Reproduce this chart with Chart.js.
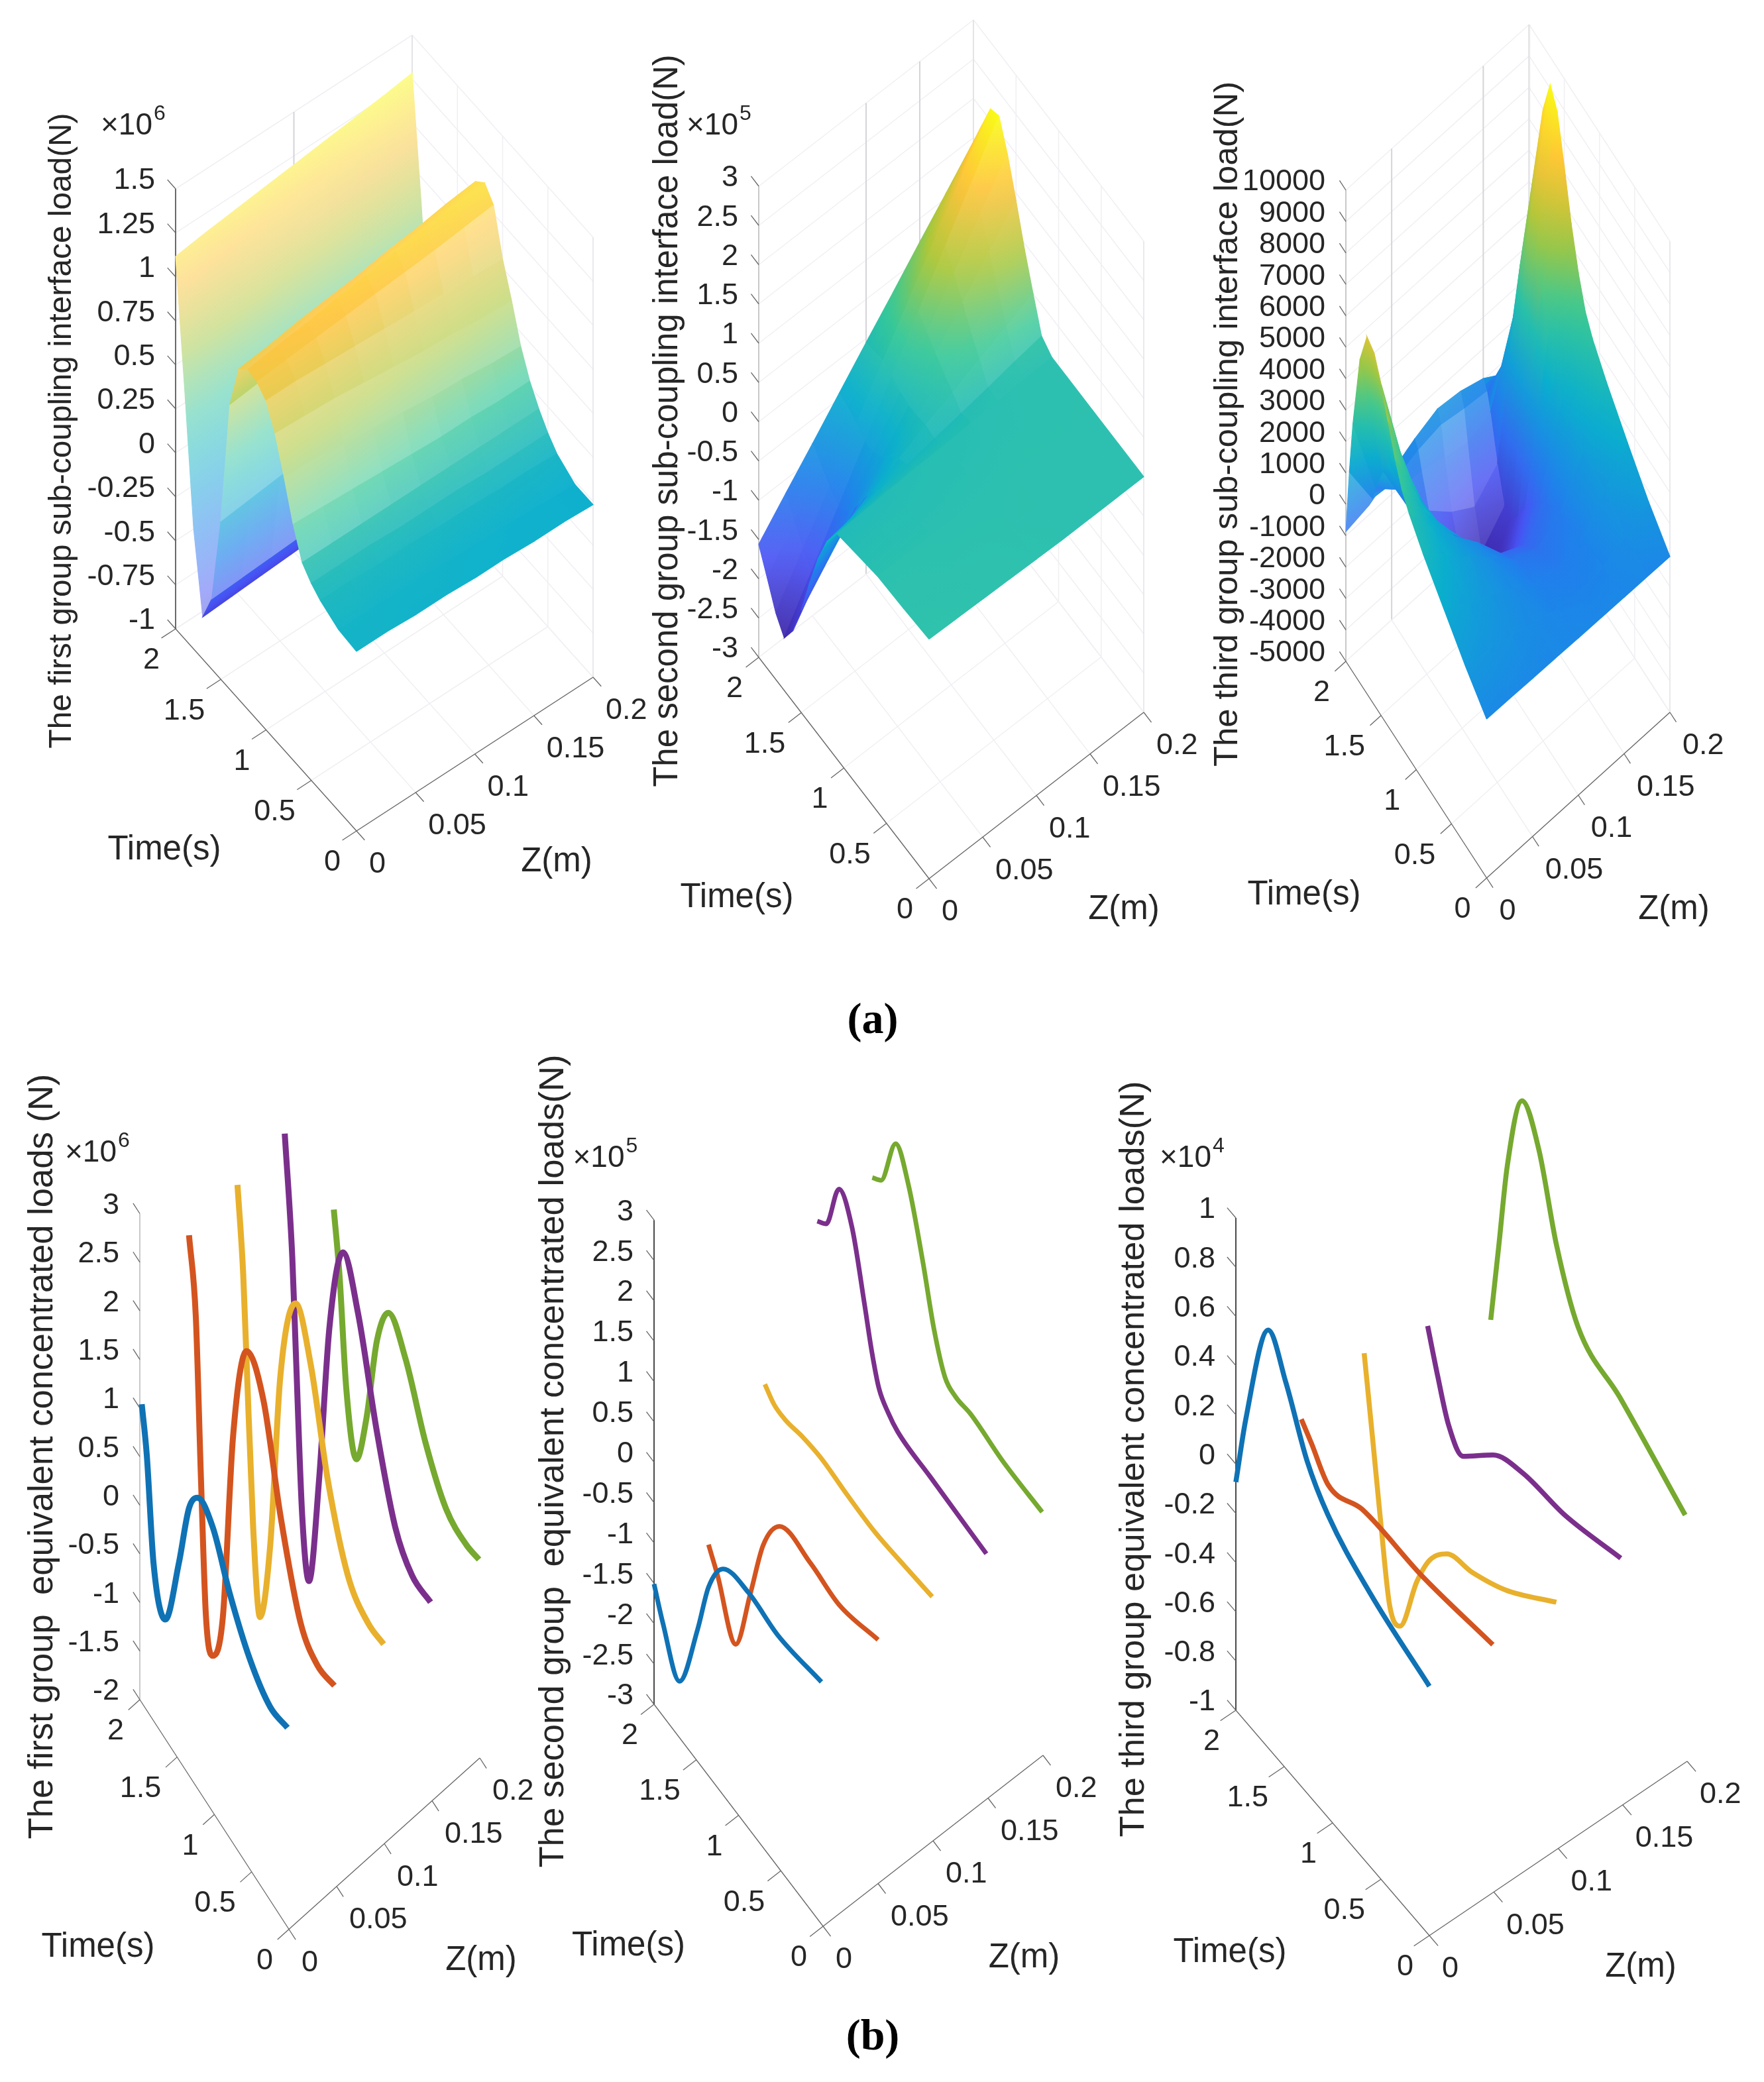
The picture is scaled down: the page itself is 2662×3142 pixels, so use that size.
<!DOCTYPE html>
<html>
<head>
<meta charset="utf-8">
<title>Sub-coupling interface loads</title>
<script src="https://cdn.jsdelivr.net/npm/chart.js@4"></script>
<style>
  html, body { margin: 0; background: #fff; }
  #page { position: relative; width: 2662px; height: 3142px; overflow: hidden; }
  canvas { position: absolute; }
  .tag { position: absolute; font: bold 66px "Liberation Serif", serif; color: #000; transform: translate(-50%, -50%); }
</style>
</head>
<body>
<div id="page">
  <div class="tag" style="left:1317px;top:1537px">(a)</div>
  <div class="tag" style="left:1317px;top:3071px">(b)</div>
</div>
<script>
// 1. DATA
const zStations = [0, 0.025, 0.05, 0.075, 0.1, 0.125, 0.15, 0.175, 0.2];

// surfaces: one row per time, one column per z station
const a1Time = [0, 0.2, 0.4, 0.5, 0.6, 0.7, 0.8, 0.9, 1, 1.1, 1.2, 1.3, 1.4, 1.5, 1.6, 1.7, 1.8, 1.9, 2];
const a1Load = [
  [0.02, 0.02, 0.01, 0.01, 0, 0, -0.01, -0.01, -0.02],
  [0.03, 0.03, 0.02, 0.02, 0.01, 0, 0, -0.01, -0.02],
  [0.08, 0.08, 0.07, 0.07, 0.06, 0.06, 0.05, 0.05, 0.04],
  [0.12, 0.12, 0.12, 0.11, 0.11, 0.11, 0.1, 0.1, 0.1],
  [0.18, 0.18, 0.18, 0.18, 0.18, 0.18, 0.18, 0.18, 0.18],
  [0.34, 0.33, 0.32, 0.31, 0.3, 0.29, 0.29, 0.28, 0.28],
  [0.55, 0.54, 0.52, 0.5, 0.48, 0.46, 0.45, 0.43, 0.42],
  [0.74, 0.73, 0.72, 0.7, 0.68, 0.66, 0.65, 0.63, 0.62],
  [0.87, 0.87, 0.86, 0.85, 0.84, 0.83, 0.82, 0.81, 0.8],
  [0.92, 0.935, 0.95, 0.965, 0.98, 0.995, 1.01, 1.03, 1.05],
  [0.935, 0.96, 0.98, 1.01, 1.03, 1.06, 1.08, 1.1, 1.12],
  [0.88, 0.9, 0.93, 0.95, 0.97, 1, 1.02, 1.05, 1.07],
  [0.62, 0.64, 0.66, 0.68, 0.7, 0.72, 0.74, 0.76, 0.78],
  [-0.1, -0.08, -0.06, -0.04, -0.02, 0, 0.02, 0.04, 0.06],
  [-0.6, -0.59, -0.58, -0.57, -0.56, -0.55, -0.54, -0.53, -0.52],
  [-0.76, -0.75, -0.74, -0.73, -0.72, -0.71, -0.7, -0.69, -0.68],
  [-0.32, -0.3, -0.28, -0.26, -0.24, -0.22, -0.2, -0.18, -0.16],
  [0.42, 0.45, 0.48, 0.5, 0.52, 0.54, 0.56, 0.58, 0.6],
  [1.116, 1.14, 1.16, 1.18, 1.2, 1.22, 1.24, 1.26, 1.285]
];

const a2Time = [0, 0.3, 0.6, 0.9, 1.08, 1.2, 1.3, 1.4, 1.5, 1.6, 1.7, 1.8, 1.9, 2];
const a2Load = [
  [0.05, 0.04, 0.03, 0.02, 0.01, 0, 0, 0, 0],
  [0.02, 0.02, 0.01, 0.01, 0, 0, 0, 0, 0],
  [0, 0, -0.01, -0.01, -0.01, 0, 0, 0, 0],
  [-0.08, -0.07, -0.06, -0.05, -0.04, -0.03, -0.02, -0.01, 0],
  [-0.13, -0.11, -0.09, -0.07, -0.06, -0.04, -0.03, -0.01, 0],
  [-0.4, -0.34, -0.27, -0.21, -0.15, -0.09, -0.03, 0.04, 0.1],
  [-0.75, -0.59, -0.44, -0.28, -0.12, 0.03, 0.19, 0.34, 0.5],
  [-1.2, -0.93, -0.67, -0.4, -0.14, 0.13, 0.39, 0.66, 0.92],
  [-1.7, -1.31, -0.93, -0.54, -0.15, 0.24, 0.63, 1.01, 1.4],
  [-2.1, -1.61, -1.11, -0.62, -0.12, 0.37, 0.86, 1.36, 1.85],
  [-2.33, -1.76, -1.2, -0.63, -0.06, 0.5, 1.07, 1.63, 2.2],
  [-2.15, -1.61, -1.08, -0.54, 0, 0.54, 1.08, 1.61, 2.15],
  [-1.85, -1.39, -0.94, -0.48, -0.03, 0.43, 0.89, 1.34, 1.8],
  [-1.56, -1.18, -0.81, -0.43, -0.05, 0.32, 0.7, 1.07, 1.45]
];

const a3Time = [0, 0.3, 0.6, 0.9, 1.1, 1.2, 1.3, 1.4, 1.5, 1.6, 1.7, 1.8, 1.9, 1.95, 2];
const a3Load = [
  [60, 50, 30, 20, 0, -10, -20, -30, -40],
  [700, 550, 350, 100, -100, -200, -100, 250, 650],
  [1450, 1000, 600, 150, -300, -450, -200, 600, 1500],
  [2200, 1500, 800, 100, -600, -900, -450, 900, 2400],
  [2800, 1700, 750, -100, -1100, -1500, -800, 1200, 3100],
  [3200, 1850, 650, -500, -1600, -2000, -1100, 1500, 3600],
  [3850, 2000, 400, -1000, -2200, -2600, -1500, 2000, 4500],
  [4700, 2200, 100, -1500, -2800, -3200, -2000, 2800, 5700],
  [5550, 2300, -200, -1800, -3200, -3700, -2600, 3800, 7200],
  [6200, 2100, -500, -2000, -3300, -4000, -3100, 4500, 8600],
  [6370, 1700, -600, -1900, -3000, -3800, -3000, 4870, 9130],
  [5300, 1100, -600, -1500, -2200, -2700, -2000, 3700, 8000],
  [2900, 200, -500, -600, -800, -1000, -700, 1670, 4400],
  [1200, -300, -400, -100, 50, -100, -200, 400, 2000],
  [-870, -700, -300, 100, 400, 300, 50, -450, -1200]
];

// line panels: the five z positions, each line with its own readings
const lineStations = [0, 0.05, 0.1, 0.15, 0.2];
const lineColors = ['#0f72b5', '#d4541f', '#e8b02c', '#7b2f8c', '#76a92f'];

const b1Time0 = [1.974, 1.907, 1.816, 1.657, 1.475, 1.34, 1.227, 1.022, 0.796, 0.524, 0.25, 0.02];
const b1Load0 = [1.07, 0.63, -0.38, -0.77, 0.03, 0.75, 0.99, 0.93, 0.52, 0.16, -0.01, 0.05];
const b1Time1 = [1.98, 1.889, 1.82, 1.753, 1.662, 1.526, 1.39, 1.209, 0.981, 0.755, 0.483, 0.258, 0.03];
const b1Load1 = [2.36, 1.63, 0.05, -1.29, -1.59, -1.03, 0.98, 2.08, 1.84, 0.93, 0.14, -0.03, 0.03];
const b1Time2 = [1.97, 1.893, 1.849, 1.76, 1.668, 1.53, 1.396, 1.191, 0.987, 0.76, 0.489, 0.216, 0.01];
const b1Load2 = [2.45, 1.62, 0.8, -0.82, -1.64, -0.73, 1.15, 2.15, 1.76, 0.85, 0.18, 0.01, 0.04];
const b1Time3 = [1.976, 1.875, 1.83, 1.742, 1.651, 1.514, 1.378, 1.196, 0.992, 0.742, 0.493, 0.267, 0.02];
const b1Load3 = [2.53, 1.38, 0.51, -1.12, -1.69, -0.47, 1.23, 2.23, 1.84, 0.93, 0.23, 0, 0.02];
const b1Time4 = [1.958, 1.882, 1.79, 1.654, 1.52, 1.38, 1.227, 0.996, 0.725, 0.453, 0.18, 0.01];
const b1Load4 = [1.33, 0.75, -0.32, -0.88, -0.3, 0.66, 1.13, 0.93, 0.38, 0.03, -0.02, 0.03];

const b2Time0 = [2, 1.895, 1.698, 1.484, 1.355, 1.184, 0.882, 0.538, 0.02];
const b2Load0 = [-1.51, -1.85, -2.3, -1.36, -0.66, -0.2, -0.08, -0.13, 0];
const b2Time1 = [2.006, 1.9, 1.683, 1.51, 1.36, 1.167, 0.8, 0.46, 0];
const b2Load1 = [-1.56, -1.79, -2.35, -1.48, -0.68, -0.18, -0.13, -0.18, 0.02];
const b2Time2 = [1.99, 1.883, 1.754, 1.539, 1.324, 1.024, 0.68, 0.334, 0.01];
const b2Load2 = [-0.08, -0.18, -0.19, -0.117, -0.08, -0.11, -0.12, -0.057, 0.01];
const b2Time3 = [2.02, 1.915, 1.764, 1.61, 1.46, 1.372, 1.29, 1.18, 1.07, 0.687, 0.02];
const b2Load3 = [1.37, 1.48, 2.12, 1.86, 1.1, 0.626, 0.3, 0.148, 0.07, 0.04, 0];
const b2Time4 = [2.02, 1.916, 1.744, 1.593, 1.42, 1.29, 1.16, 1.034, 0.86, 0.475, 0.01];
const b2Load4 = [1.38, 1.49, 2.18, 1.88, 1.15, 0.506, 0.09, 0.02, 0.05, -0.01, 0];

const b3Time0 = [2, 1.897, 1.666, 1.482, 1.264, 1.048, 0.61, 0];
const b3Load0 = [-0.073, 0.23, 0.697, 0.567, 0.35, 0.229, 0.11, 0.013];
const b3Time1 = [1.99, 1.885, 1.71, 1.36, 0.75, 0.01];
const b3Load1 = [0.01, -0.04, -0.13, -0.068, -0.056, 0];
const b3Time2 = [2.006, 1.92, 1.83, 1.743, 1.635, 1.46, 1.33, 1.153, 0.892, 0.54, 0.02];
const b3Load2 = [0.094, -0.208, -0.532, -0.81, -0.845, -0.583, -0.438, -0.331, -0.286, -0.198, -0.009];
const b3Time3 = [2.016, 1.91, 1.8, 1.65, 1.34, 1.036, 0.6, 0.02];
const b3Load3 = [0.023, -0.136, -0.28, -0.339, -0.192, -0.125, -0.097, -0.007];
const b3Time4 = [2.03, 1.946, 1.86, 1.707, 1.534, 1.35, 1.13, 0.695, 0.02];
const b3Load4 = [-0.136, 0.206, 0.564, 0.902, 0.785, 0.479, 0.25, 0.16, -0.009];

// tick labels
const timeTicks = [0, 0.5, 1, 1.5, 2];
const zTicks = [0, 0.05, 0.1, 0.15, 0.2];
const a1Ticks = [-1, -0.75, -0.5, -0.25, 0, 0.25, 0.5, 0.75, 1, 1.25, 1.5];
const a2Ticks = [-3, -2.5, -2, -1.5, -1, -0.5, 0, 0.5, 1, 1.5, 2, 2.5, 3];
const a3Ticks = [-5000, -4000, -3000, -2000, -1000, 0, 1000, 2000, 3000, 4000, 5000, 6000, 7000, 8000, 9000, 10000];
const b1Ticks = [-2, -1.5, -1, -0.5, 0, 0.5, 1, 1.5, 2, 2.5, 3];
const b2Ticks = a2Ticks;
const b3Ticks = [-1, -0.8, -0.6, -0.4, -0.2, 0, 0.2, 0.4, 0.6, 0.8, 1];

// 2. PANELS: where each 3D box sits on the page
const panels = [
  { name: 'a1', A: [265, 949], O: [538, 1254], Z: [895, 1022], k: 265.6, ticks: a1Ticks, walls: [0.1, 0.2], axis: '#6a6a6a',
    title: 'The first group sub-coupling interface load(N)', titleAt: [94, 650], titleSize: 47.8, exp: '6', expAt: [206, 186],
    timeAt: [248, 1283], zAt: [840, 1301], time: a1Time, load: a1Load, clim: [-1, 1.3], soft: 0.22, softAbove: -0.3, paleFrom: 6, top: 0, height: 1440, width: 960 },
  { name: 'a2', A: [1145, 992], O: [1402, 1326], Z: [1726, 1075], k: 118.5, ticks: a2Ticks, walls: [0.1, 0.15, 0.2], axis: '#c9c9c9',
    title: 'The second group sub-coupling interface load(N)', titleAt: [1008, 635], titleSize: 51, exp: '5', expAt: [1090, 186],
    timeAt: [1112, 1355], zAt: [1696, 1373], time: a2Time, load: a2Load, clim: [-2.33, 2.2], soft: 0, softAbove: 0, paleFrom: 3, top: 0, height: 1440, width: 960 },
  { name: 'a3', A: [2031, 998], O: [2243.5, 1325], Z: [2520, 1075], k: 0.0474, ticks: a3Ticks, walls: [0.05, 0.15, 0.2], axis: '#c9c9c9',
    title: 'The third group sub-coupling interface load(N)', titleAt: [1853, 640], titleSize: 50.7,
    timeAt: [1968, 1351], zAt: [2526, 1373], time: a3Time, load: a3Load, clim: [-4000, 9130], soft: 0, softAbove: 0, paleFrom: 14, meshFrom: 1.6, meshTo: 0.15, top: 0, height: 1440, width: 830 },
  { name: 'b1', A: [211, 2565], O: [436, 2911.5], Z: [724, 2653], k: 146.7, ticks: b1Ticks, axis: '#c9c9c9',
    title: 'The first group  equivalent concentrated loads (N)', titleAt: [64, 2198], titleSize: 52.6, exp: '6', expAt: [152, 1736],
    timeAt: [148, 2939], zAt: [726, 2959], times: [b1Time0, b1Time1, b1Time2, b1Time3, b1Time4], lines: [b1Load0, b1Load1, b1Load2, b1Load3, b1Load4], lineWidth: 9, top: 1580, height: 1440, width: 900 },
  { name: 'b2', A: [986.5, 2572], O: [1241.6, 2907], Z: [1573.5, 2649], k: 121.8, ticks: b2Ticks, axis: '#4a4a4a',
    title: 'The second group  equivalent concentrated loads(N)', titleAt: [835, 2205], titleSize: 52.7, exp: '5', expAt: [918, 1744],
    timeAt: [948, 2937], zAt: [1545, 2955], times: [b2Time0, b2Time1, b2Time2, b2Time3, b2Time4], lines: [b2Load0, b2Load1, b2Load2, b2Load3, b2Load4], lineWidth: 7, top: 1580, height: 1440, width: 900 },
  { name: 'b3', A: [1865, 2581], O: [2157, 2921], Z: [2546, 2658], k: 371.5, ticks: b3Ticks, axis: '#4a4a4a',
    title: 'The third group equivalent concentrated loads(N)', titleAt: [1712, 2202], titleSize: 52.5, exp: '4', expAt: [1804, 1744],
    timeAt: [1856, 2947], zAt: [2476, 2969], times: [b3Time0, b3Time1, b3Time2, b3Time3, b3Time4], lines: [b3Load0, b3Load1, b3Load2, b3Load3, b3Load4], lineWidth: 7.5, top: 1580, height: 1440, width: 1000 }
];

const FONT = '"Liberation Sans", Arial, sans-serif';
const INK = '#262626';

// 3. COLOURS
const parula = [[62, 38, 168], [72, 82, 244], [30, 130, 235], [10, 175, 205], [55, 200, 151], [171, 199, 57], [254, 195, 56], [249, 251, 21]];

function parulaAt(f, cover) {
  const p = Math.min(Math.max(f, 0), 1) * (parula.length - 1);
  const i = Math.min(Math.floor(p), parula.length - 2);
  const c = parula[i].map((n, j) => n + (parula[i + 1][j] - n) * (p - i));
  // a mesh leaves white showing between its lines
  return 'rgb(' + c.map(n => Math.round(255 + (n - 255) * cover)).join(',') + ')';
}

// 4. VIEW: page x in pixels, y as load shifted so that the corner t=2, z=0 reads true on the y axis
function project(p, t, z, v) {
  const tdx = (p.O[0] - p.A[0]) / 2, tdy = (p.O[1] - p.A[1]) / 2;
  const zdx = (p.Z[0] - p.O[0]) / 0.2, zdy = (p.Z[1] - p.O[1]) / 0.2;
  return { x: p.A[0] + (2 - t) * tdx + z * zdx, y: v - ((2 - t) * tdy + z * zdy) / p.k };
}

function surfaceDatasets(p) {
  const [lo, hi] = p.clim;
  const rows = p.time.length - 1, cols = zStations.length - 1;
  const corner = (i, j) => [p.time[i], zStations[j], p.load[i][j]];

  const pixels = (scales, c) => {
    const q = project(p, c[0], c[1], c[2]);
    return [scales.x.getPixelForValue(q.x), scales.y.getPixelForValue(q.y)];
  };
  const edges = (scales, i, j) => {
    const [a, b, c, d] = [corner(i, j), corner(i + 1, j), corner(i + 1, j + 1), corner(i, j + 1)].map(m => pixels(scales, m));
    return {
      a, b, c, d,
      along: [(b[0] + c[0] - a[0] - d[0]) / 2, (b[1] + c[1] - a[1] - d[1]) / 2],
      across: [(d[0] + c[0] - a[0] - b[0]) / 2, (d[1] + c[1] - a[1] - b[1]) / 2]
    };
  };
  // pixels between two mesh lines of constant time, 0.02 s apart
  const lineGap = (scales, i, j) => {
    const { along, across } = edges(scales, i, j);
    return Math.abs(along[0] * across[1] - along[1] * across[0]) / (Math.hypot(across[0], across[1]) || 1) * 0.02 / (p.time[i + 1] - p.time[i]);
  };
  // how fast the surface climbs on screen, in px per second
  const climb = (i, j) => Math.abs((p.load[i + 1][j] + p.load[i + 1][j + 1] - p.load[i][j] - p.load[i][j + 1]) / 2) / (p.time[i + 1] - p.time[i]) * p.k;

  const sets = [];
  // nearest cell first: Chart.js paints the first dataset last
  for (let i = 0; i < rows; i++) {
    for (let j = 0; j < cols; j++) {
      const paint = ctx => {
        const scales = ctx.chart.scales;
        const { a, b, c, d, along, across } = edges(scales, i, j);
        if (![a, b, c, d].flat().every(Number.isFinite)) return '#ffffff'; // scales not laid out yet

        const v = [p.load[i][j], p.load[i + 1][j], p.load[i + 1][j + 1], p.load[i][j + 1]];
        const vMin = Math.min(...v), vMax = Math.max(...v), vMid = (v[0] + v[1] + v[2] + v[3]) / 4;

        const near = [j - 1, j, j + 1].filter(n => n >= 0 && n < cols);
        const gap = near.reduce((s, n) => s + lineGap(scales, i, n), 0) / near.length;
        const beside = [i - 1, i, i + 1].filter(n => n >= 0 && n < rows);
        const rate = beside.reduce((s, n) => s + climb(n, j), 0) / beside.length;
        const inMesh = p.meshFrom !== undefined && p.time[i] >= p.meshFrom && zStations[j + 1] <= p.meshTo;
        const paleFrom = inMesh ? 4 : p.paleFrom;
        const soft = vMid > p.softAbove ? p.soft : 0;
        const cover = Math.max(0.5, Math.min(1, 1 - (gap - paleFrom) * 0.03) - soft * Math.min(1, rate / 450));

        // colour follows the load across the cell, in both directions
        const dAlong = (v[1] + v[2] - v[0] - v[3]) / 2, dAcross = (v[3] + v[2] - v[0] - v[1]) / 2;
        const det = along[0] * across[1] - along[1] * across[0];
        const gx = (dAlong * across[1] - dAcross * along[1]) / det;
        const gy = (along[0] * dAcross - across[0] * dAlong) / det;
        const n2 = gx * gx + gy * gy;
        if (Math.abs(det) < 4 || !(n2 > 0) || vMax - vMin < (hi - lo) * 0.002) return parulaAt((vMid - lo) / (hi - lo), cover);
        const cx = (a[0] + b[0] + c[0] + d[0]) / 4, cy = (a[1] + b[1] + c[1] + d[1]) / 4;
        const g = ctx.chart.ctx.createLinearGradient(
          cx + gx * (vMin - vMid) / n2, cy + gy * (vMin - vMid) / n2,
          cx + gx * (vMax - vMid) / n2, cy + gy * (vMax - vMid) / n2);
        [0, 0.25, 0.5, 0.75, 1].forEach(s => g.addColorStop(s, parulaAt((vMin + (vMax - vMin) * s - lo) / (hi - lo), cover)));
        return g;
      };
      const ring = [corner(i, j), corner(i + 1, j), corner(i + 1, j + 1), corner(i, j + 1), corner(i, j)];
      sets.push({
        data: ring.map(c => project(p, c[0], c[1], c[2])),
        showLine: true, fill: 'shape', pointRadius: 0, borderWidth: 1.2, tension: 0, clip: false,
        backgroundColor: paint, borderColor: paint
      });
    }
  }
  return sets;
}

function lineDatasets(p) {
  return p.lines.map((values, n) => ({
    label: 'Z = ' + lineStations[n],
    // readings run from t=2 down to t=0, so x grows left to right for the monotone spline
    data: p.times[n].map((t, i) => project(p, t, lineStations[n], values[i])),
    showLine: true, fill: false, pointRadius: 0, borderWidth: p.lineWidth, cubicInterpolationMode: 'monotone',
    borderColor: lineColors[n], borderCapStyle: 'butt', borderJoinStyle: 'round', clip: false
  }));
}

// 5. THE BOX: walls, oblique axes, tick labels and titles
const box3d = {
  id: 'box3d',
  beforeDatasetsDraw(chart, args, opts) {
    const p = opts.panel, ctx = chart.ctx;
    const lo = p.ticks[0], hi = p.ticks[p.ticks.length - 1];
    const pt = (t, z, v) => {
      const q = project(p, t, z, v);
      return [chart.scales.x.getPixelForValue(q.x), chart.scales.y.getPixelForValue(q.y)];
    };
    const seg = (a, b, color, w) => {
      ctx.strokeStyle = color; ctx.lineWidth = w;
      ctx.beginPath(); ctx.moveTo(a[0], a[1]); ctx.lineTo(b[0], b[1]); ctx.stroke();
    };
    const label = (text, x, y, align) => {
      ctx.textAlign = align; ctx.textBaseline = 'middle';
      ctx.fillText(text, x, y);
    };
    ctx.save();
    if (p.walls) {
      const light = '#f0f0f4';
      p.ticks.forEach(v => {
        seg(pt(2, 0, v), pt(2, 0.2, v), light, 1.5);
        seg(pt(2, 0.2, v), pt(0, 0.2, v), light, 1.5);
      });
      zTicks.forEach(z => {
        seg(pt(2, z, lo), pt(0, z, lo), light, 1.5);
        if (p.walls.includes(z)) seg(pt(2, z, lo), pt(2, z, hi), z === 0.2 ? '#bdbdc4' : '#d4d4da', 2);
      });
      timeTicks.forEach(t => {
        seg(pt(t, 0, lo), pt(t, 0.2, lo), light, 1.5);
        seg(pt(t, 0.2, lo), pt(t, 0.2, hi), t === 0 ? '#e2e2e8' : light, 1.5);
      });
    }
    // axes
    seg(pt(2, 0, lo), pt(2, 0, hi), p.axis, 2);
    seg(pt(2, 0, lo), pt(0, 0, lo), '#666', 1.3);
    seg(pt(0, 0, lo), pt(0, 0.2, lo), '#666', 1.3);
    p.ticks.forEach(v => seg(pt(2, 0, v), pt(2.09, 0, v), '#666', 1.3));
    ctx.fillStyle = INK;
    ctx.font = '45px ' + FONT;
    timeTicks.forEach(t => {
      seg(pt(t, 0, lo), pt(t, -0.012, lo), '#666', 1.3);
      const a = pt(t, 0, lo);
      label(String(t), a[0] - 24, a[1] + 48, 'right');
    });
    zTicks.forEach(z => {
      seg(pt(0, z, lo), pt(-0.09, z, lo), '#666', 1.3);
      const a = pt(0, z, lo);
      label(String(z), a[0] + 19, a[1] + 51, 'left');
    });
    // page positions of the titles, through the canvas offset
    const box = chart.canvas.getBoundingClientRect();
    ctx.font = '51px ' + FONT;
    label('Time(s)', p.timeAt[0] - box.left, p.timeAt[1] - box.top, 'center');
    label('Z(m)', p.zAt[0] - box.left, p.zAt[1] - box.top, 'center');
    if (p.exp) {
      const ex = p.expAt[0] - box.left, ey = p.expAt[1] - box.top;
      ctx.font = '46px ' + FONT;
      label('×10', ex + 24, ey + 4, 'right');
      ctx.font = '32px ' + FONT;
      label(p.exp, ex + 26, ey - 14, 'left');
    }
    ctx.font = p.titleSize + 'px ' + FONT;
    ctx.translate(p.titleAt[0] - box.left, p.titleAt[1] - box.top);
    ctx.rotate(-Math.PI / 2);
    label(p.title, 0, 0, 'center');
    ctx.restore();
  }
};

// 6. ONE CHART PER PANEL
function drawPanel(p) {
  const left = p.A[0] - 200;
  const canvas = document.createElement('canvas');
  const w = Math.min(p.width, 2662 - left);
  canvas.width = w; canvas.height = p.height;
  canvas.style.left = left + 'px'; canvas.style.top = p.top + 'px';
  canvas.style.width = w + 'px'; canvas.style.height = p.height + 'px';
  document.getElementById('page').appendChild(canvas);

  const lo = p.ticks[0];
  new Chart(canvas, {
    type: 'scatter',
    data: { datasets: p.load ? surfaceDatasets(p) : lineDatasets(p) },
    plugins: [box3d],
    options: {
      responsive: false, animation: false, events: [],
      layout: { padding: 0 },
      plugins: { legend: { display: false }, tooltip: { enabled: false }, box3d: { panel: p } },
      scales: {
        x: { type: 'linear', display: false, min: p.A[0], max: left + w },
        y: {
          type: 'linear', position: 'left',
          min: lo + (p.A[1] - (p.top + p.height)) / p.k,
          max: lo + (p.A[1] - p.top) / p.k,
          grid: { display: false }, border: { display: false },
          afterBuildTicks: s => { s.ticks = p.ticks.map(v => ({ value: v })); },
          afterFit: s => { s.width = 200; s.paddingTop = 0; s.paddingBottom = 0; },
          ticks: {
            autoSkip: false, padding: 23, labelOffset: -12, maxRotation: 0, minRotation: 0,
            color: INK, font: { family: FONT, size: 45 },
            callback: v => String(v)
          }
        }
      }
    }
  });
}

panels.forEach(drawPanel);
</script>
</body>
</html>
